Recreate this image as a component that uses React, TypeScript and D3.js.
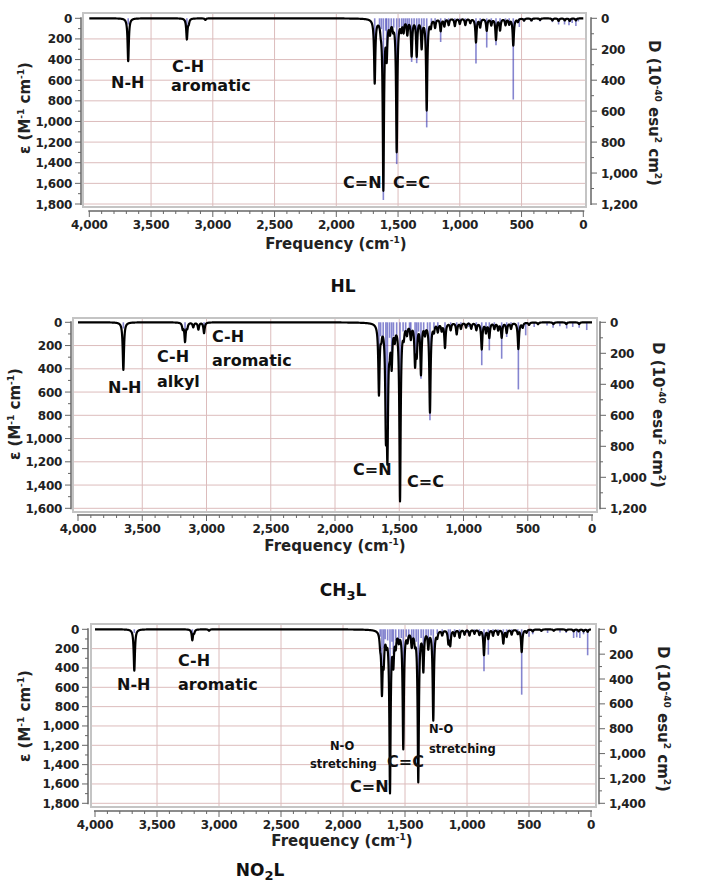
import React from 'react';
import * as d3 from 'd3';

// ---------- shared tick labels ----------
const FREQ_TICKS = [4000, 3500, 3000, 2500, 2000, 1500, 1000, 500, 0];

// ---------- HL ----------
const hlEpsTicks = [0, 200, 400, 600, 800, 1000, 1200, 1400, 1600, 1800];
const hlDTicks = [0, 200, 400, 600, 800, 1000, 1200];
// [frequency cm-1, epsilon]
const hlEpsPeaks: [number, number][] = [
  [3685, 416], [3210, 200], [3195, 40], [3060, 15],
  [1689, 616], [1640, 60], [1619, 1640], [1592, 340], [1565, 110], [1540, 70], [1511, 1280],
  [1475, 90], [1455, 110], [1425, 140], [1390, 350], [1349, 350], [1309, 270], [1268, 880],
  [1235, 70], [1200, 80], [1155, 116], [1125, 70], [1090, 60], [1040, 70], [1000, 50], [955, 60],
  [915, 40], [869, 229], [835, 80], [782, 116], [745, 60], [707, 203], [674, 110], [630, 60],
  [600, 50], [567, 261], [530, 30], [480, 20], [420, 20], [350, 15], [250, 20], [200, 25],
  [150, 20], [110, 25], [60, 20],
];
// [frequency cm-1, D]
const hlDSticks: [number, number][] = [
  [3685, 40], [3210, 50], [1689, 400], [1650, 60], [1635, 70], [1619, 1174], [1600, 80], [1592, 230],
  [1575, 70], [1555, 80], [1535, 60], [1511, 942], [1490, 60], [1470, 70], [1455, 80], [1440, 60],
  [1425, 90], [1410, 70], [1390, 282], [1370, 60], [1349, 290], [1330, 60], [1309, 190], [1290, 50],
  [1268, 705], [1230, 40], [1200, 45], [1155, 153], [1120, 40], [1090, 35], [1040, 40], [1000, 30],
  [955, 40], [869, 292], [835, 40], [782, 189], [745, 40], [707, 174], [674, 60], [630, 40],
  [600, 30], [567, 525], [518, 56], [480, 20], [420, 20], [350, 20], [250, 25], [200, 40],
  [152, 40], [116, 45], [90, 30], [60, 50], [40, 20],
];

// ---------- CH3L ----------
const ch3EpsTicks = [0, 200, 400, 600, 800, 1000, 1200, 1400, 1600];
const ch3DTicks = [0, 200, 400, 600, 800, 1000, 1200];
const ch3EpsPeaks: [number, number][] = [
  [3647, 410], [3185, 50], [3167, 160], [3150, 40], [3103, 40], [3063, 60], [3019, 92],
  [1658, 600], [1640, 80], [1604, 820], [1592, 1020], [1575, 140], [1559, 330], [1535, 110],
  [1494, 1520], [1465, 90], [1440, 80], [1410, 120], [1377, 330], [1364, 230], [1331, 430],
  [1300, 80], [1261, 765], [1230, 60], [1200, 70], [1170, 60], [1144, 212], [1100, 60], [1053, 98],
  [1020, 50], [980, 40], [940, 50], [900, 60], [858, 227], [825, 80], [799, 126], [760, 50],
  [730, 60], [703, 126], [664, 86], [630, 50], [573, 227], [540, 40], [490, 20], [420, 15],
  [300, 15], [200, 15], [100, 15],
];
const ch3DSticks: [number, number][] = [
  [3647, 40], [3167, 60], [3019, 30], [1658, 400], [1645, 90], [1625, 100], [1604, 650], [1592, 820],
  [1575, 100], [1559, 260], [1545, 90], [1520, 80], [1494, 1100], [1470, 60], [1450, 80], [1420, 70],
  [1410, 100], [1377, 270], [1364, 200], [1350, 60], [1331, 364], [1310, 70], [1280, 60], [1261, 632],
  [1230, 40], [1200, 40], [1144, 150], [1100, 40], [1053, 70], [1020, 40], [960, 30], [900, 40],
  [858, 277], [825, 50], [799, 181], [760, 40], [703, 235], [664, 95], [630, 30], [573, 433],
  [516, 84], [450, 30], [350, 20], [303, 35], [250, 25], [197, 40], [150, 30], [100, 35], [41, 50],
];

// ---------- NO2L ----------
const no2EpsTicks = [0, 200, 400, 600, 800, 1000, 1200, 1400, 1600, 1800];
const no2DTicks = [0, 200, 400, 600, 800, 1000, 1200, 1400];
const no2EpsPeaks: [number, number][] = [
  [3683, 428], [3215, 110], [3200, 30], [3080, 15],
  [1700, 110], [1686, 610], [1672, 280], [1650, 100], [1621, 1660], [1594, 310], [1575, 140],
  [1550, 90], [1514, 1220], [1480, 90], [1446, 150], [1420, 100], [1393, 1560], [1352, 400],
  [1312, 170], [1272, 930], [1240, 60], [1200, 50], [1150, 130], [1135, 150], [1100, 60],
  [1060, 80], [1020, 50], [980, 60], [940, 40], [900, 50], [863, 262], [828, 90], [790, 60],
  [750, 50], [707, 142], [680, 70], [640, 50], [590, 40], [559, 232], [520, 30], [470, 20],
  [400, 15], [300, 15], [200, 15], [140, 20], [100, 20], [60, 20], [27, 25],
];
const no2DSticks: [number, number][] = [
  [3683, 30], [3215, 40], [1700, 60], [1686, 400], [1672, 150], [1660, 80], [1640, 90], [1621, 1200],
  [1605, 100], [1594, 200], [1575, 90], [1550, 80], [1530, 70], [1514, 900], [1490, 60], [1470, 80],
  [1446, 120], [1430, 90], [1410, 100], [1393, 1150], [1370, 70], [1352, 300], [1330, 60], [1312, 120],
  [1290, 50], [1272, 700], [1240, 40], [1200, 30], [1150, 100], [1135, 110], [1100, 40], [1060, 50],
  [1000, 30], [940, 30], [900, 40], [863, 338], [828, 204], [790, 50], [750, 40], [707, 60],
  [680, 40], [640, 30], [590, 30], [559, 526], [500, 60], [470, 40], [350, 30], [250, 25],
  [200, 30], [140, 70], [115, 65], [90, 70], [60, 40], [27, 209],
];

type Ann = { t: string; x: number; y: number; s?: number };

type PanelCfg = {
  xr: [number, number];
  yr: [number, number];
  box: [number, number, number, number];
  leftX: number;
  axisY: number;
  rightX: number;
  epsTicks: number[];
  dTicks: number[];
  eps: [number, number][];
  sticks: [number, number][];
  anns: Ann[];
  freqTitle: [number, number];
  leftTitle: [number, number];
  rightTitle: [number, number];
  caption: { parts: [string, boolean][]; x: number; y: number };
};

const FONT = "'DejaVu Sans', Verdana, sans-serif";
const HWHM = 6;

function spectrum(peaks: [number, number][]): [number, number][] {
  const pts: [number, number][] = [];
  for (let f = 4000; f >= 0; f -= 1) {
    let s = 0;
    for (const [c, h] of peaks) {
      const d = f - c;
      s += (h * HWHM * HWHM) / (d * d + HWHM * HWHM);
    }
    pts.push([f, s]);
  }
  return pts;
}

function Panel({ c }: { c: PanelCfg }) {
  const epsMax = c.epsTicks[c.epsTicks.length - 1];
  const dMax = c.dTicks[c.dTicks.length - 1];
  const x = d3.scaleLinear().domain([4000, 0]).range(c.xr);
  const y = d3.scaleLinear().domain([0, epsMax]).range(c.yr);
  const yD = d3.scaleLinear().domain([0, dMax]).range(c.yr);
  const line = d3.line<[number, number]>().x(d => x(d[0])).y(d => y(d[1]));
  const pts = spectrum(c.eps);
  const [bx0, bx1, by0, by1] = c.box;
  const minorEps = d3.range(0, epsMax + 1, 100);
  const minorD = d3.range(0, dMax + 1, 100);
  const minorF = d3.range(0, 4001, 100);
  const sup = (t: string) => (
    <tspan dy={-6} fontSize={9}>{t}</tspan>
  );
  const tickStyle = { fontFamily: FONT, fontWeight: 'bold' as const, fontSize: 12, letterSpacing: -0.3, fill: '#222' };
  return (
    <g>
      {/* plot box */}
      <rect x={bx0} y={by0} width={bx1 - bx0} height={by1 - by0} fill="#fff" stroke="#c4c4c4" strokeWidth={2} />
      {/* grid */}
      {c.epsTicks.slice(1).map(v => (
        <line key={'h' + v} x1={bx0 + 1} x2={bx1 - 1} y1={y(v)} y2={y(v)} stroke="#dcbcbc" strokeWidth={1} />
      ))}
      {FREQ_TICKS.slice(1, -1).map(v => (
        <line key={'v' + v} x1={x(v)} x2={x(v)} y1={by0 + 1} y2={by1 - 1} stroke="#dcbcbc" strokeWidth={1} />
      ))}
      {/* D sticks */}
      {c.sticks.map(([f, v], i) => (
        <line key={'s' + i} x1={x(f)} x2={x(f)} y1={yD(0)} y2={yD(v)} stroke="#3434b0" strokeOpacity={0.6} strokeWidth={1.6} />
      ))}
      {/* epsilon spectrum */}
      <path d={line(pts) || ''} fill="none" stroke="#000" strokeWidth={2.2} strokeLinejoin="round" />
      {/* left axis */}
      <line x1={c.leftX} x2={c.leftX} y1={y(0) - 1} y2={y(epsMax) + 1} stroke="#666" strokeWidth={1.5} />
      {minorEps.map(v => (
        <line key={'le' + v} x1={c.leftX} x2={c.leftX - (v % 200 === 0 ? 6 : 3)} y1={y(v)} y2={y(v)} stroke="#666" strokeWidth={1} />
      ))}
      {c.epsTicks.map(v => (
        <text key={'lt' + v} x={c.leftX - 9} y={y(v) + 4.5} textAnchor="end" {...tickStyle}>
          {d3.format(',')(v)}
        </text>
      ))}
      {/* right axis */}
      <line x1={c.rightX} x2={c.rightX} y1={yD(0) - 1} y2={yD(dMax) + 1} stroke="#666" strokeWidth={1.5} />
      {minorD.map(v => (
        <line key={'rd' + v} x1={c.rightX} x2={c.rightX + (v % 200 === 0 ? 6 : 3)} y1={yD(v)} y2={yD(v)} stroke="#666" strokeWidth={1} />
      ))}
      {c.dTicks.map(v => (
        <text key={'rt' + v} x={c.rightX + 10} y={yD(v) + 4.5} textAnchor="start" {...tickStyle}>
          {d3.format(',')(v)}
        </text>
      ))}
      {/* x axis */}
      <line x1={x(4000) - 1} x2={x(0) + 1} y1={c.axisY} y2={c.axisY} stroke="#666" strokeWidth={1.5} />
      {minorF.map(v => (
        <line key={'xf' + v} x1={x(v)} x2={x(v)} y1={c.axisY} y2={c.axisY + (v % 500 === 0 ? 6 : 3)} stroke="#666" strokeWidth={1} />
      ))}
      {FREQ_TICKS.map(v => (
        <text key={'xt' + v} x={x(v)} y={c.axisY + 18} textAnchor="middle" {...tickStyle}>
          {d3.format(',')(v)}
        </text>
      ))}
      <text x={c.freqTitle[0]} y={c.freqTitle[1]} textAnchor="middle" fontFamily={FONT} fontWeight="bold" fontSize={15} fill="#222">
        Frequency (cm{sup('-1')}<tspan dy={6}>)</tspan>
      </text>
      {/* left title */}
      <text transform={`translate(${c.leftTitle[0]},${c.leftTitle[1]}) rotate(-90)`} textAnchor="middle" fontFamily={FONT} fontWeight="bold" fontSize={15} fill="#222">
        ε (M{sup('-1')}<tspan dy={6}> cm</tspan>{sup('-1')}<tspan dy={6}>)</tspan>
      </text>
      {/* right title */}
      <text transform={`translate(${c.rightTitle[0]},${c.rightTitle[1]}) rotate(90)`} textAnchor="middle" fontFamily={FONT} fontWeight="bold" fontSize={15} fill="#222">
        D (10{sup('-40')}<tspan dy={6}> esu</tspan>{sup('2')}<tspan dy={6}> cm</tspan>{sup('2')}<tspan dy={6}>)</tspan>
      </text>
      {/* annotations */}
      {c.anns.map((a, i) => (
        <text key={'a' + i} x={a.x} y={a.y} fontFamily={FONT} fontWeight="bold" fontSize={a.s || 16} fill="#111">
          {a.t}
        </text>
      ))}
      {/* caption */}
      <text x={c.caption.x} y={c.caption.y} textAnchor="middle" fontFamily={FONT} fontWeight="bold" fontSize={17} fill="#111">
        {c.caption.parts.map(([t, sub], i) =>
          sub ? (
            <tspan key={i} dy={4} fontSize={13}>{t}</tspan>
          ) : (
            <tspan key={i} dy={i > 0 && c.caption.parts[i - 1][1] ? -4 : 0}>{t}</tspan>
          )
        )}
      </text>
    </g>
  );
}

const panels: PanelCfg[] = [
  {
    xr: [89.3, 583.3], yr: [18.3, 204], box: [83, 586, 13, 207], leftX: 81, axisY: 211, rightX: 591,
    epsTicks: hlEpsTicks, dTicks: hlDTicks, eps: hlEpsPeaks, sticks: hlDSticks,
    anns: [
      { t: 'N-H', x: 111, y: 88 },
      { t: 'C-H', x: 172, y: 72 },
      { t: 'aromatic', x: 171, y: 91 },
      { t: 'C=N', x: 343, y: 188 },
      { t: 'C=C', x: 393, y: 188 },
    ],
    freqTitle: [336, 249], leftTitle: [30, 108], rightTitle: [649, 113],
    caption: { parts: [['HL', false]], x: 343, y: 292 },
  },
  {
    xr: [78, 592], yr: [322.3, 508.3], box: [73, 597, 318, 512], leftX: 71, axisY: 515, rightX: 600,
    epsTicks: ch3EpsTicks, dTicks: ch3DTicks, eps: ch3EpsPeaks, sticks: ch3DSticks,
    anns: [
      { t: 'N-H', x: 108, y: 393 },
      { t: 'C-H', x: 157, y: 362 },
      { t: 'alkyl', x: 157, y: 387 },
      { t: 'C-H', x: 212, y: 342 },
      { t: 'aromatic', x: 212, y: 366 },
      { t: 'C=N', x: 353, y: 475 },
      { t: 'C=C', x: 407, y: 487 },
    ],
    freqTitle: [335, 551], leftTitle: [20, 414], rightTitle: [653, 415],
    caption: { parts: [['CH', false], ['3', true], ['L', false]], x: 343, y: 596 },
  },
  {
    xr: [95, 591], yr: [629.3, 803.3], box: [91, 596, 624, 807], leftX: 88, axisY: 811, rightX: 599,
    epsTicks: no2EpsTicks, dTicks: no2DTicks, eps: no2EpsPeaks, sticks: no2DSticks,
    anns: [
      { t: 'N-H', x: 117, y: 690 },
      { t: 'C-H', x: 178, y: 666 },
      { t: 'aromatic', x: 178, y: 690 },
      { t: 'N-O', x: 330, y: 750, s: 11.5 },
      { t: 'stretching', x: 310, y: 768, s: 11.5 },
      { t: 'C=N', x: 350, y: 792 },
      { t: 'C=C', x: 387, y: 767 },
      { t: 'N-O', x: 429, y: 733, s: 11.5 },
      { t: 'stretching', x: 429, y: 753, s: 11.5 },
    ],
    freqTitle: [342, 846], leftTitle: [30, 716], rightTitle: [658, 719],
    caption: { parts: [['NO', false], ['2', true], ['L', false]], x: 260, y: 876 },
  },
];

export default function App() {
  return (
    <svg width={714} height={886} style={{ position: 'absolute', left: 0, top: 0, background: '#fff' }}>
      <rect x={0} y={0} width={714} height={886} fill="#fff" />
      {panels.map((p, i) => (
        <Panel key={i} c={p} />
      ))}
    </svg>
  );
}
